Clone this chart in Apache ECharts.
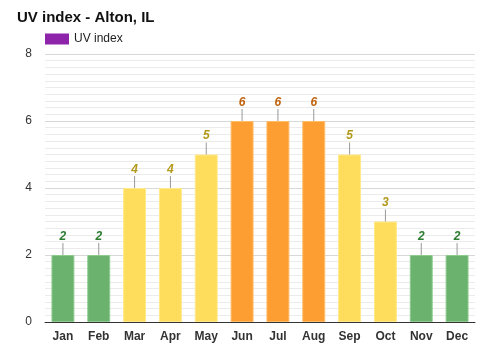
<!DOCTYPE html>
<html>
<head>
<meta charset="utf-8">
<script src="https://cdn.jsdelivr.net/npm/echarts@6/dist/echarts.min.js"></script>
<style>
  html, body { margin: 0; padding: 0; background: #fff; }
  #chart { width: 500px; height: 350px; }
</style>
</head>
<body>
<div id="chart"></div>
<script>
// Monthly UV index
const months = ['Jan', 'Feb', 'Mar', 'Apr', 'May', 'Jun', 'Jul', 'Aug', 'Sep', 'Oct', 'Nov', 'Dec'];
const uvIndex = [2, 2, 4, 4, 5, 6, 6, 6, 5, 3, 2, 2];
const yTicks = [0, 2, 4, 6, 8];

// Colour bands by UV level: fill, border, label
function band(v) {
  if (v <= 2) return { fill: '#6ab26e', border: '#8fcb8f', text: '#2e7d32' };
  if (v <= 5) return { fill: '#ffdd5c', border: '#ffe98a', text: '#b39a1c' };
  return { fill: '#fd9e33', border: '#ffbb66', text: '#c0620c' };
}

const chart = echarts.init(document.getElementById('chart'), null, { renderer: 'canvas' });

const barData = uvIndex.map(v => {
  const b = band(v);
  return {
    value: v,
    itemStyle: { color: b.fill, borderColor: b.border, borderWidth: 1 },
    label: { rich: { v: { color: b.text } } }
  };
});

chart.setOption({
  animation: false,
  title: {
    text: 'UV index - Alton, IL',
    left: 12,
    top: 5,
    textStyle: { fontFamily: 'Arial, Liberation Sans, sans-serif', fontSize: 15, fontWeight: 'bold', color: '#111' }
  },
  legend: {
    left: 40,
    top: 28,
    icon: 'rect',
    itemWidth: 24,
    itemHeight: 11,
    itemGap: 6,
    textStyle: { fontFamily: 'Arial, Liberation Sans, sans-serif', fontSize: 12, color: '#222' },
    data: ['UV index']
  },
  grid: { left: 45, right: 25, top: 54, bottom: 28 },
  xAxis: {
    type: 'category',
    data: months,
    axisLine: { lineStyle: { color: '#333', width: 1 } },
    axisTick: { show: false },
    axisLabel: {
      fontFamily: 'Arial, Liberation Sans, sans-serif',
      fontSize: 12,
      fontWeight: 'bold',
      color: '#333',
      margin: 9
    }
  },
  yAxis: {
    type: 'value',
    min: yTicks[0],
    max: yTicks[yTicks.length - 1],
    interval: 2,
    axisLine: { show: false },
    axisTick: { show: false },
    axisLabel: {
      fontFamily: 'Arial, Liberation Sans, sans-serif',
      fontSize: 12,
      color: '#333',
      margin: 13
    },
    splitLine: { lineStyle: { color: '#d8d8d8', width: 1 } },
    minorTick: { show: false, splitNumber: 10 },
    minorSplitLine: { show: true, lineStyle: { color: '#ebebeb', width: 1 } }
  },
  series: [{
    name: 'UV index',
    type: 'bar',
    barWidth: '64%',
    itemStyle: { color: '#8e24aa' },
    data: barData,
    label: {
      show: true,
      position: 'top',
      distance: 0,
      formatter: '{v|{c}}\n{l|}',
      rich: {
        v: {
          fontFamily: 'Arial, Liberation Sans, sans-serif',
          fontSize: 12,
          fontWeight: 'bold',
          fontStyle: 'italic',
          align: 'center',
          lineHeight: 13
        },
        l: {
          width: 1,
          height: 12,
          backgroundColor: '#999',
          align: 'center'
        }
      }
    }
  }]
});
</script>
</body>
</html>
